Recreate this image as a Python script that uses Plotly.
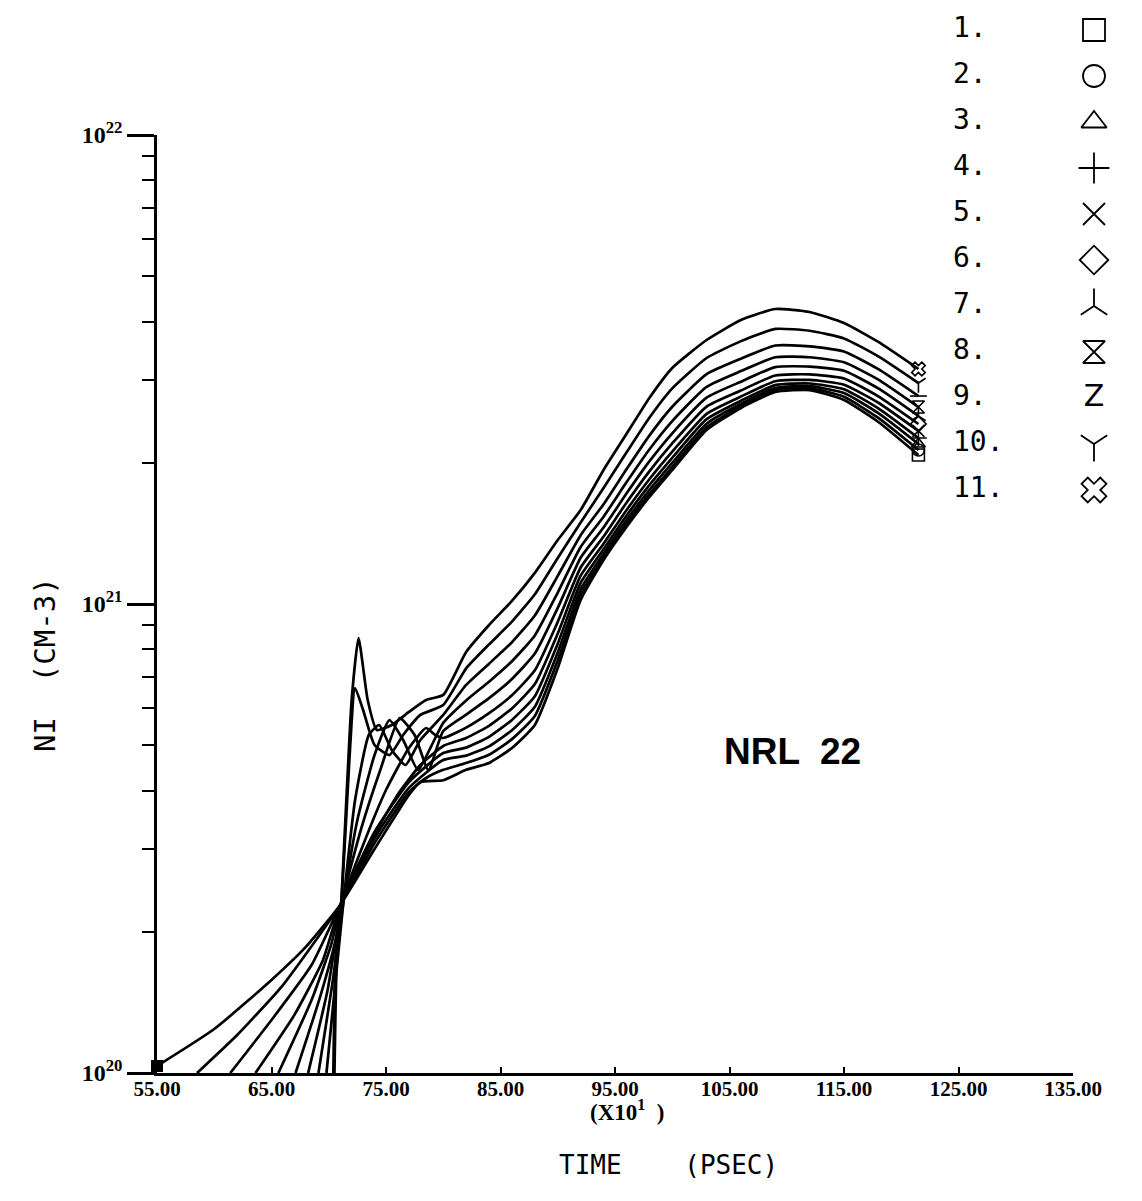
import plotly.graph_objects as go

# NI (cm-3) vs time (x10 psec), 11 curves, values in units of 1e20 cm-3
SCALE = 1e20

t_tail = [80, 82, 84, 86, 88, 90, 92, 94, 96, 98, 100, 103, 106, 109, 112, 115, 118, 121.5]

# ---- early part of each curve (before t = 80) ----
t1_head = [55, 60, 65, 68, 71, 74, 77, 78]
ni1_head = [1.035, 1.241, 1.579, 1.857, 2.281, 3.003, 3.915, 4.173]
t2_head = [58.5, 62, 66, 71, 74, 77, 78.5]
ni2_head = [1.0, 1.205, 1.540, 2.28, 3.093, 3.973, 4.256]
t3_head = [61.4, 65, 68.5, 71, 74, 77]
ni3_head = [1.0, 1.297, 1.699, 2.28, 3.170, 4.053]
t4_head = [63.6, 67, 69.5, 71, 74, 77]
ni4_head = [1.0, 1.330, 1.742, 2.28, 3.265, 4.173]
t5_head = [65.6, 68.5, 70.2, 71.2, 73.5, 76, 78]
ni5_head = [1.0, 1.431, 1.874, 2.338, 3.063, 3.915, 4.537]
t6_head = [67.1, 69.3, 70.6, 71.3, 73, 75, 77, 78.5, 79.3]
ni6_head = [1.0, 1.467, 1.921, 2.361, 3.063, 4.012, 4.932, 5.440, 5.256]
t7_head = [68.2, 69.9, 71.2, 72.8, 74.5, 76.2, 77.5, 78.7]
ni7_head = [1.0, 1.503, 2.338, 3.297, 4.426, 5.712, 5.256, 4.426]
t8_head = [69.1, 70.3, 71.3, 72.5, 74, 75.3, 76.5, 77.8, 79]
ni8_head = [1.0, 1.540, 2.338, 3.463, 4.764, 5.657, 5.129, 4.426, 5.004]
t9_head = [69.8, 70.6, 71.3, 72.3, 73.5, 74.4, 75.5, 76.7, 78]
ni9_head = [1.0, 1.579, 2.338, 3.820, 5.256, 5.521, 4.884, 4.536, 5.129]
t10_head = [70.4, 70.6, 71.1, 71.8, 72.3, 73.0, 74.0, 75.3, 76.5, 78]
ni10_head = [1.0, 1.742, 2.281, 4.650, 6.621, 5.943, 5.004, 4.764, 5.256, 5.800]
t11_head = [70.5, 70.7, 71.1, 72.0, 72.6, 73.4, 74.2, 75.5, 77, 78.5]
ni11_head = [1.0, 1.742, 2.338, 6.242, 8.462, 6.242, 5.388, 5.521, 5.886, 6.242]

# ---- later part (t >= 80), on t_tail ----
ni1_tail = [4.21, 4.43, 4.58, 4.93, 5.52, 7.30, 10.20, 12.41, 14.60, 16.91, 19.31, 23.50, 26.18, 28.31, 28.59, 27.23, 24.44, 20.78]
ni2_tail = [4.43, 4.58, 4.77, 5.15, 5.77, 7.58, 10.47, 12.58, 14.80, 17.15, 19.59, 23.81, 26.45, 28.59, 28.86, 27.65, 24.93, 21.30]
ni3_tail = [4.65, 4.75, 4.97, 5.38, 6.04, 7.88, 10.75, 12.80, 15.08, 17.49, 19.99, 24.23, 26.73, 28.87, 29.13, 28.17, 25.52, 21.94]
ni4_tail = [4.81, 4.94, 5.21, 5.66, 6.36, 8.23, 11.09, 13.09, 15.42, 17.92, 20.50, 24.78, 27.13, 29.28, 29.52, 28.71, 26.13, 22.59]
ni5_tail = [4.98, 5.18, 5.50, 5.99, 6.75, 8.65, 11.49, 13.44, 15.85, 18.45, 21.13, 25.44, 27.69, 29.85, 30.05, 29.35, 26.86, 23.39]
ni6_tail = [5.18, 5.45, 5.85, 6.39, 7.22, 9.16, 11.96, 13.93, 16.44, 19.18, 22.00, 26.36, 28.53, 30.71, 30.87, 30.26, 27.72, 24.20]
ni7_tail = [5.36, 5.81, 6.30, 6.92, 7.84, 9.81, 12.55, 14.56, 17.20, 20.14, 23.12, 27.54, 29.79, 32.00, 32.08, 31.43, 28.82, 25.17]
ni8_tail = [5.58, 6.23, 6.83, 7.55, 8.57, 10.58, 13.23, 15.35, 18.17, 21.35, 24.55, 29.04, 31.38, 33.59, 33.58, 32.76, 30.09, 26.30]
ni9_tail = [5.80, 6.72, 7.46, 8.29, 9.45, 11.48, 14.02, 16.32, 19.37, 22.86, 26.34, 30.90, 33.34, 35.57, 35.44, 34.55, 31.67, 27.76]
ni10_tail = [6.09, 7.29, 8.20, 9.17, 10.49, 12.54, 14.92, 17.67, 21.03, 24.95, 28.82, 33.46, 36.35, 38.59, 38.25, 36.84, 33.72, 29.59]
ni11_tail = [6.40, 7.90, 9.02, 10.15, 11.65, 13.69, 15.86, 19.31, 23.04, 27.50, 31.86, 36.55, 40.32, 42.56, 41.94, 39.73, 36.20, 31.70]

curve_labels = ["1.", "2.", "3.", "4.", "5.", "6.", "7.", "8.", "9.", "10.", "11."]
symbols = ["square-open", "circle-open", "triangle-up-open", "cross-thin-open", "x-thin-open",
           "diamond-open", "y-up-open", "hourglass-open", None, "y-down-open", "x-open"]

x_ticks = [55, 65, 75, 85, 95, 105, 115, 125, 135]
y_ticks = [1e20, 1e21, 1e22]
y_ticktext = ["<b>10</b><sup><b>20</b></sup>", "<b>10</b><sup><b>21</b></sup>", "<b>10</b><sup><b>22</b></sup>"]

heads = [(t1_head, ni1_head), (t2_head, ni2_head), (t3_head, ni3_head), (t4_head, ni4_head),
         (t5_head, ni5_head), (t6_head, ni6_head), (t7_head, ni7_head), (t8_head, ni8_head),
         (t9_head, ni9_head), (t10_head, ni10_head), (t11_head, ni11_head)]
tails = [ni1_tail, ni2_tail, ni3_tail, ni4_tail, ni5_tail, ni6_tail,
         ni7_tail, ni8_tail, ni9_tail, ni10_tail, ni11_tail]

# ---- layout, in page pixels (the page body adds an 8px offset) ----
W, H = 1142, 1201
OFF = 8
ax_left, ax_right = 157, 1073      # pixel columns of t=55 and t=135
ax_top, ax_bottom = 135, 1073      # pixel rows of 1e22 and 1e20

xdom = [(ax_left - OFF) / W, (ax_right - OFF) / W]
ydom = [(H - (ax_bottom - OFF)) / H, (H - (ax_top - OFF)) / H]

fig = go.Figure()

for i in range(11):
    th, nh = heads[i]
    t = th + t_tail
    ni = [v * SCALE for v in nh + tails[i]]
    fig.add_trace(go.Scatter(x=t, y=ni, mode="lines",
                             line=dict(color="black", width=2.7, shape="spline", smoothing=0.5),
                             showlegend=False, hoverinfo="skip"))
    sym = symbols[i] if symbols[i] else "line-ew-open"
    fig.add_trace(go.Scatter(x=[t[-1]], y=[ni[-1]], mode="markers",
                             marker=dict(symbol=sym, size=12, color="black",
                                         line=dict(color="black", width=1.6)),
                             showlegend=False, cliponaxis=False, hoverinfo="skip"))

# start marker of curve 1
fig.add_trace(go.Scatter(x=[t1_head[0]], y=[ni1_head[0] * SCALE], mode="markers",
                         marker=dict(symbol="square", size=12, color="black"),
                         showlegend=False, cliponaxis=False, hoverinfo="skip"))

# legend drawn by hand: number then symbol (page-pixel coordinates on x2/y2)
row_y = [30 + 46 * i for i in range(11)]
fig.add_trace(go.Scatter(x=[953] * 11, y=row_y, mode="text", text=curve_labels,
                         textposition="middle right",
                         textfont=dict(family="DejaVu Sans Mono", size=28, color="black"),
                         xaxis="x2", yaxis="y2", showlegend=False, cliponaxis=False,
                         hoverinfo="skip"))
sym_idx = [i for i in range(11) if symbols[i]]
fig.add_trace(go.Scatter(x=[1094] * len(sym_idx), y=[row_y[i] for i in sym_idx],
                         mode="markers",
                         marker=dict(symbol=[symbols[i] for i in sym_idx], size=22,
                                     color="black", line=dict(color="black", width=1.8)),
                         xaxis="x2", yaxis="y2", showlegend=False, cliponaxis=False,
                         hoverinfo="skip"))
fig.add_trace(go.Scatter(x=[1094], y=[row_y[8]], mode="text", text=["Z"],
                         textfont=dict(family="DejaVu Sans", size=30, color="black"),
                         xaxis="x2", yaxis="y2", showlegend=False, cliponaxis=False,
                         hoverinfo="skip"))

fig.update_layout(
    template="none",
    width=W, height=H,
    margin=dict(l=0, r=0, t=0, b=0, autoexpand=False),
    paper_bgcolor="white", plot_bgcolor="rgba(0,0,0,0)",
    showlegend=False,
    xaxis=dict(range=[55, 135], domain=xdom, anchor="y", tickvals=x_ticks,
               ticktext=[f"{v:.2f}" for v in x_ticks],
               ticks="inside", ticklen=6, tickwidth=2, tickcolor="black",
               ticklabelstandoff=-5,
               showline=True, linewidth=2.5, linecolor="black",
               showgrid=False, zeroline=False, automargin=False,
               tickfont=dict(family="Liberation Serif", size=21, color="black", weight="bold")),
    yaxis=dict(type="log", range=[20, 22], domain=ydom, anchor="x",
               tickvals=y_ticks, ticktext=y_ticktext,
               ticks="outside", ticklen=27, tickwidth=2.5, tickcolor="black",
               minor=dict(tickvals=[k * 1e20 for k in range(2, 10)] + [k * 1e21 for k in range(2, 10)],
                          ticks="outside", ticklen=12, tickwidth=2, tickcolor="black",
                          showgrid=False),
               showline=True, linewidth=2.5, linecolor="black",
               showgrid=False, zeroline=False, automargin=False,
               tickfont=dict(family="Liberation Serif", size=24, color="black")),
    xaxis2=dict(domain=[0, 1], anchor="y2", range=[OFF, W + OFF], visible=False,
                fixedrange=True, automargin=False),
    yaxis2=dict(domain=[0, 1], anchor="x2", range=[H + OFF, OFF], visible=False,
                fixedrange=True, automargin=False),
)

ann = dict(xref="x2", yref="y2", showarrow=False)
fig.add_annotation(x=792, y=751, text="<b>NRL  22</b>",
                   font=dict(family="Liberation Sans", size=37, color="black"), **ann)
fig.add_annotation(x=627, y=1110, text="<b>(X10<sup>1</sup>  )</b>",
                   font=dict(family="Liberation Serif", size=23, color="black"), **ann)
fig.add_annotation(x=668, y=1165, text="TIME    (PSEC)",
                   font=dict(family="DejaVu Sans Mono", size=26, color="black"), **ann)
fig.add_annotation(x=45, y=665, text="NI  (CM-3)", textangle=-90,
                   font=dict(family="DejaVu Sans Mono", size=29, color="black"), **ann)

fig.write_html("out.html")
